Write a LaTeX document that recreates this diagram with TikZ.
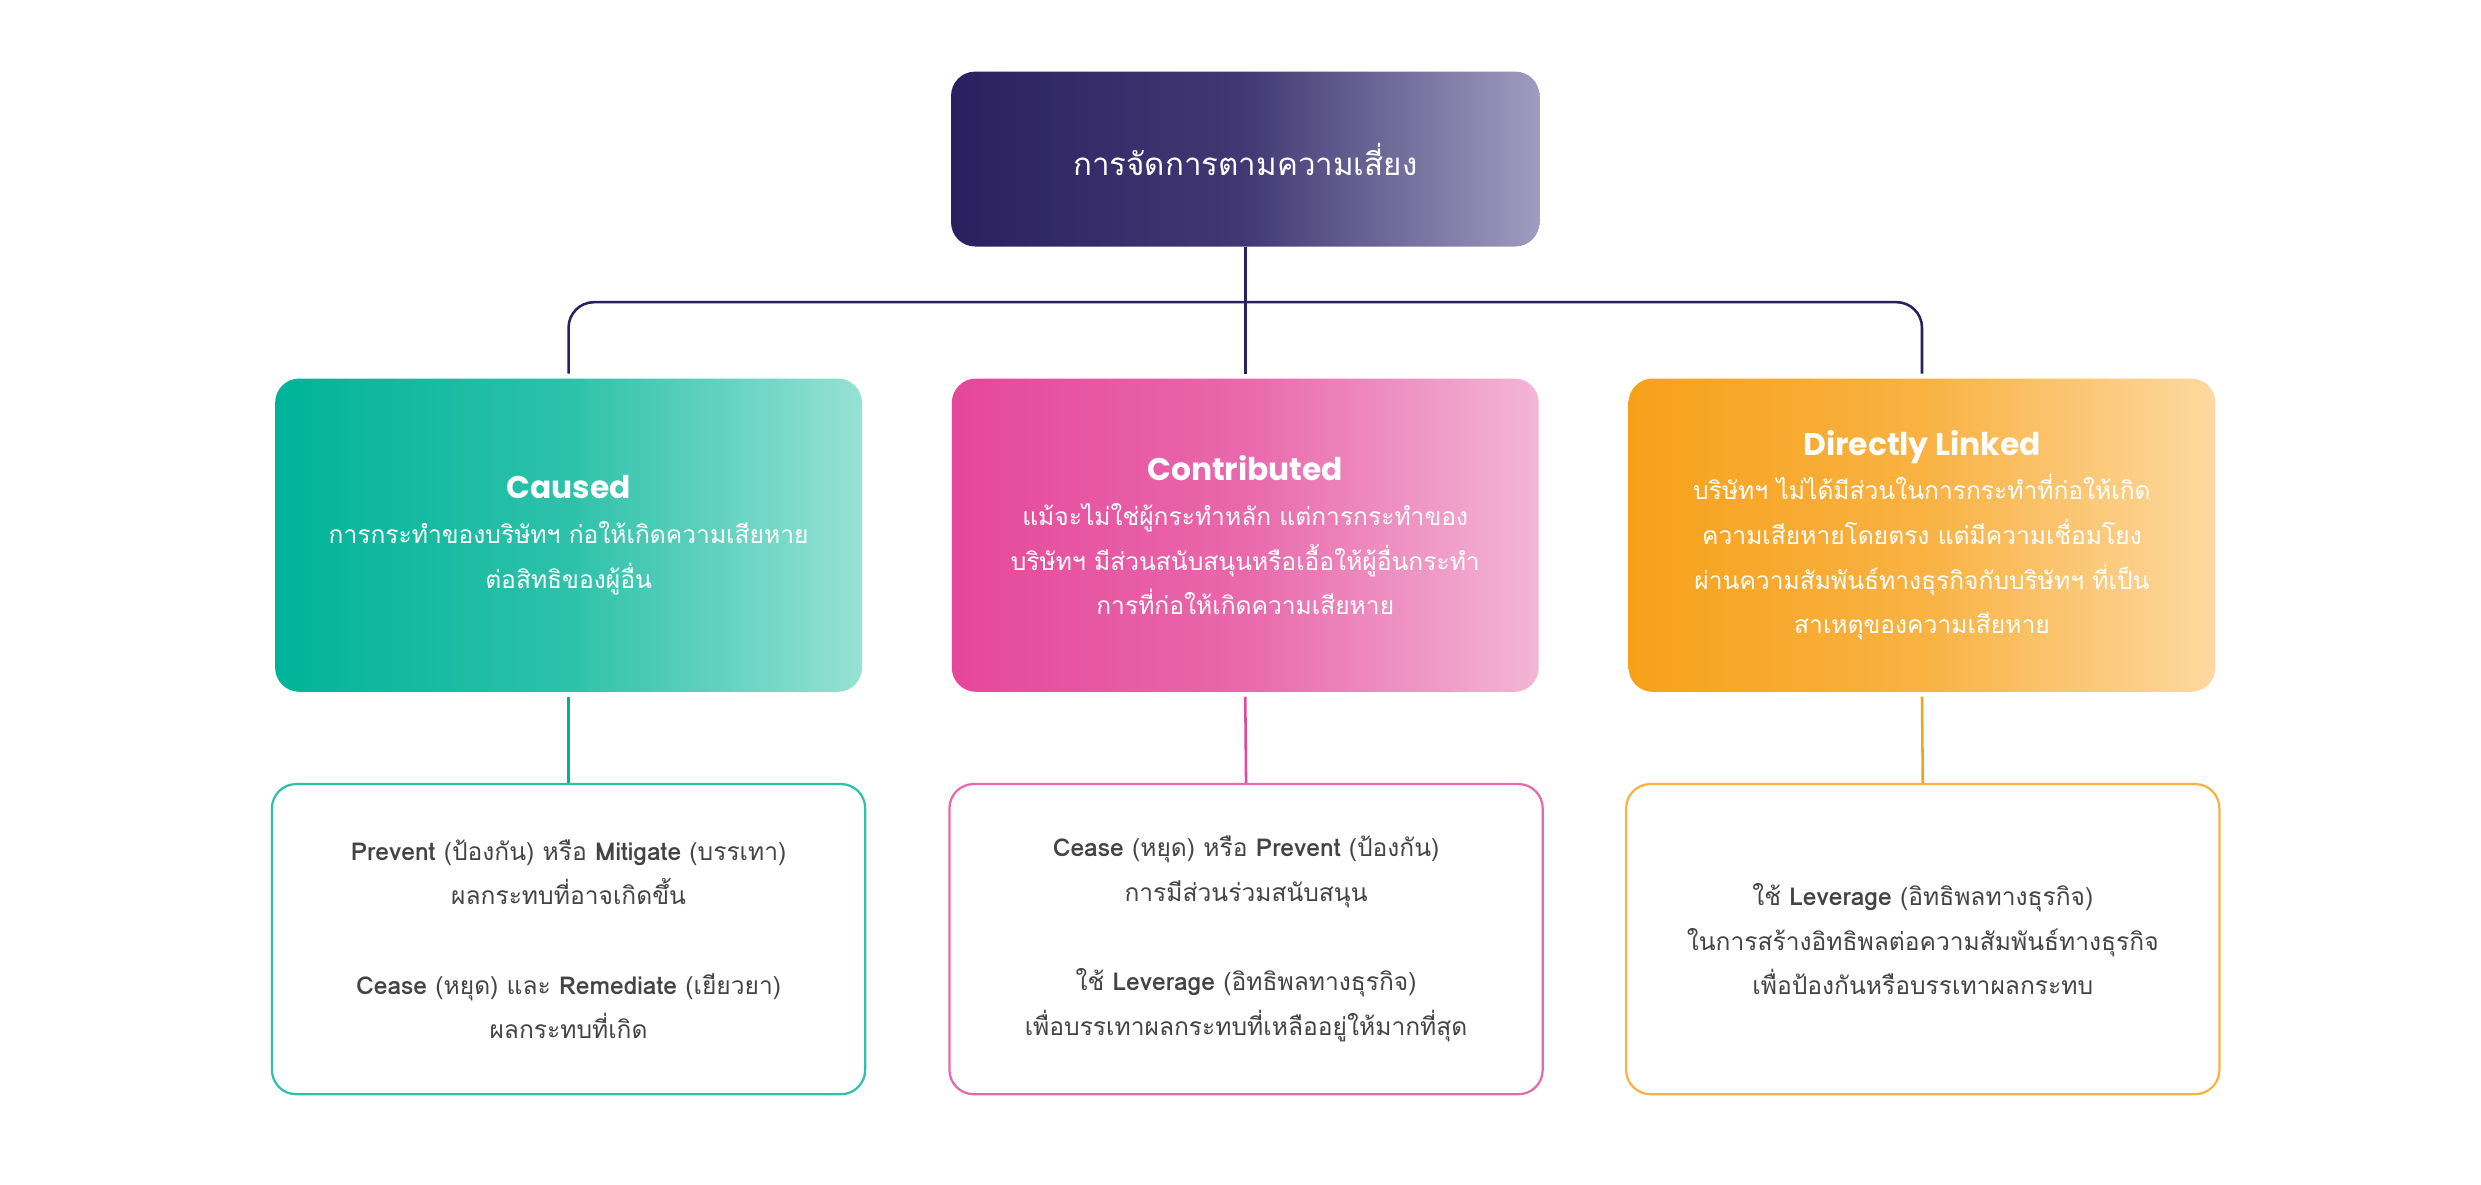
\documentclass[tikz,border=0pt]{standalone}
\usepackage{fontspec}
\setmainfont{Loma}[Script=Thai]
\newfontfamily\headfont{Poppins}
\usetikzlibrary{positioning}
\definecolor{navy1}{RGB}{42, 32, 96}
\definecolor{lilac1}{RGB}{160, 156, 192}
\definecolor{teal1}{RGB}{0, 179, 152}
\definecolor{teal2}{RGB}{150, 226, 212}
\definecolor{pink1}{RGB}{229, 71, 154}
\definecolor{pink2}{RGB}{243, 182, 214}
\definecolor{orange1}{RGB}{247, 161, 26}
\definecolor{orange2}{RGB}{253, 217, 160}
\definecolor{text1}{RGB}{68, 68, 68}
\tikzset{
  box/.style={rounded corners=3.8mm, minimum width=92.25mm, minimum height=49.25mm,
    align=center, text=white, font=\fontsize{11}{20}\selectfont},
  act/.style={rounded corners=3.8mm, minimum width=93.25mm, minimum height=48.75mm,
    align=center, fill=white, line width=0.35mm, text=text1,
    font=\fontsize{11}{20}\selectfont},
  head/.style={font=\headfont\bfseries\fontsize{14}{20}\selectfont},
  link/.style={line width=0.4mm}
}
\begin{document}
\begin{tikzpicture}[x=0.25mm,y=-0.25mm]
  \useasboundingbox (0,0) rectangle (1560,745);
  \node[rounded corners=3.8mm, minimum width=92.5mm, minimum height=27.5mm,
    left color=navy1, right color=lilac1, middle color=navy1!80!lilac1,
    text=white, font=\fontsize{14}{20}\selectfont] (risk) at (783,100)
    {การจัดการตามความเสี่ยง};

  \node[box, shading angle=60, left color=teal1, right color=teal2, middle color=teal1!70!teal2] (caused) at (357.5,336.5)
    {{\headfont\bfseries\fontsize{14}{20}\selectfont Caused}\\
     การกระทำของบริษัทฯ ก่อให้เกิดความเสียหาย\\ต่อสิทธิของผู้อื่น};
  \node[box, shading angle=60, left color=pink1, right color=pink2, middle color=pink1!70!pink2] (contrib) at (783,336.5)
    {{\headfont\bfseries\fontsize{14}{20}\selectfont Contributed}\\
     แม้จะไม่ใช่ผู้กระทำหลัก แต่การกระทำของ\\
     บริษัทฯ มีส่วนสนับสนุนหรือเอื้อให้ผู้อื่นกระทำ\\
     การที่ก่อให้เกิดความเสียหาย};
  \node[box, shading angle=60, left color=orange1, right color=orange2, middle color=orange1!70!orange2] (linked) at (1208.5,336.5)
    {{\headfont\bfseries\fontsize{14}{20}\selectfont Directly Linked}\\
     บริษัทฯ ไม่ได้มีส่วนในการกระทำที่ก่อให้เกิด\\
     ความเสียหายโดยตรง แต่มีความเชื่อมโยง\\
     ผ่านความสัมพันธ์ทางธุรกิจกับบริษัทฯ ที่เป็น\\
     สาเหตุของความเสียหาย};

  \node[act, draw=teal1!70!teal2] (act1) at (357.5,590.5)
    {\textbf{Prevent} (ป้องกัน) หรือ \textbf{Mitigate} (บรรเทา)\\
     ผลกระทบที่อาจเกิดขึ้น\\[7mm]
     \textbf{Cease} (หยุด) และ \textbf{Remediate} (เยียวยา)\\
     ผลกระทบที่เกิด};
  \node[act, draw=pink1!70!pink2] (act2) at (783.5,590.5)
    {\textbf{Cease} (หยุด) หรือ \textbf{Prevent} (ป้องกัน)\\
     การมีส่วนร่วมสนับสนุน\\[7mm]
     ใช้ \textbf{Leverage} (อิทธิพลทางธุรกิจ)\\
     เพื่อบรรเทาผลกระทบที่เหลืออยู่ให้มากที่สุด};
  \node[act, draw=orange1!70!orange2] (act3) at (1209,590.5)
    {ใช้ \textbf{Leverage} (อิทธิพลทางธุรกิจ)\\
     ในการสร้างอิทธิพลต่อความสัมพันธ์ทางธุรกิจ\\
     เพื่อป้องกันหรือบรรเทาผลกระทบ};

  \coordinate (bar) at (783,190);
  \draw[link, navy1] (risk.south) -- ([yshift=2]contrib.north);
  \draw[link, navy1, rounded corners=4mm] ([yshift=2]caused.north) |- (bar) -| ([yshift=2]linked.north);
  \draw[link, teal1] ([yshift=-2]caused.south) -- (act1.north);
  \draw[link, pink1] ([yshift=-2]contrib.south) -- (act2.north);
  \draw[link, orange1] ([yshift=-2]linked.south) -- (act3.north);
\end{tikzpicture}
\end{document}
